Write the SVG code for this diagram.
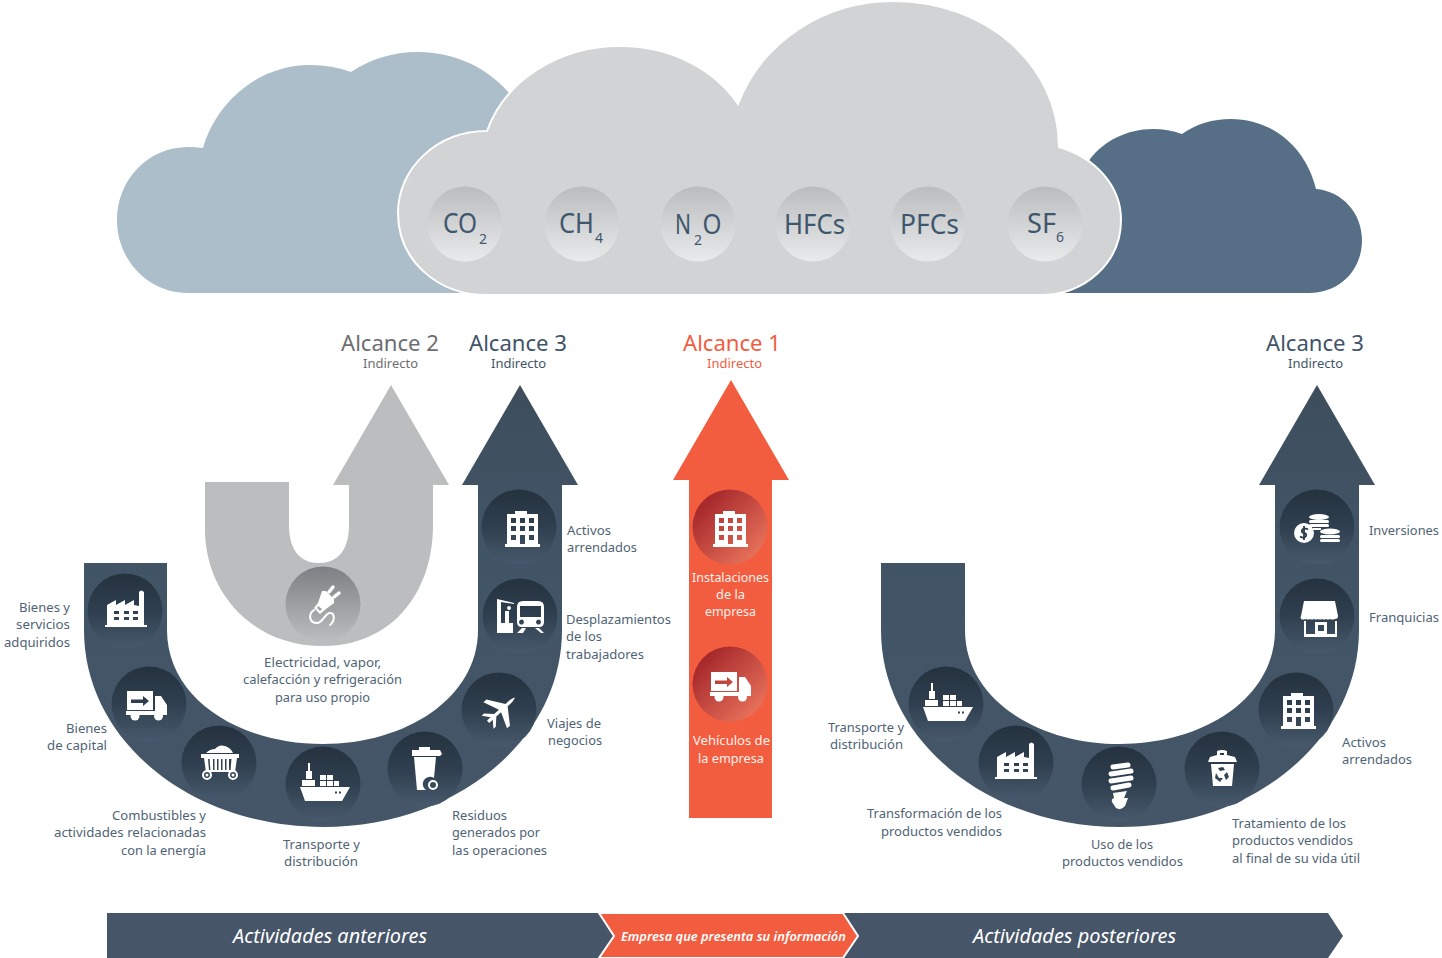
<svg xmlns="http://www.w3.org/2000/svg" xmlns:xlink="http://www.w3.org/1999/xlink" width="1442" height="958" viewBox="0 0 1442 958">
<style>
text{font-family:"Noto Sans","Open Sans","Liberation Sans",sans-serif}
.l{font-size:13.4px;fill:#4f6375}
.w{font-size:13.4px;fill:#fff0ea}
.t{font-size:22px}
.s{font-size:12.6px}
.g{font-size:27.5px;fill:#3f576d}
.g2{font-size:14px;fill:#3f576d}
.b{font-size:19.5px;font-style:italic;fill:#fff}
.ic{fill:#fff;fill-rule:evenodd}
.sk{fill:none;stroke:#fff;stroke-linecap:round}
</style>
<defs>
<linearGradient id="gU" x1="0" y1="0" x2="0" y2="1"><stop offset="0" stop-color="#3d4d5c"/><stop offset=".3" stop-color="#415465"/><stop offset="1" stop-color="#445668"/></linearGradient>
<linearGradient id="gC" x1="0" y1="0" x2="0" y2="1"><stop offset="0" stop-color="#25323f"/><stop offset=".5" stop-color="#2f3f4f"/><stop offset="1" stop-color="#47596c"/></linearGradient>
<linearGradient id="gG" x1="0" y1="0" x2="0" y2="1"><stop offset="0" stop-color="#bbbcbe"/><stop offset="1" stop-color="#e9eaeb"/></linearGradient>
<linearGradient id="gP" x1="0" y1="0" x2="0" y2="1"><stop offset="0" stop-color="#7e7f82"/><stop offset="1" stop-color="#bcbdbf"/></linearGradient>
<linearGradient id="gR" x1="0" y1="0" x2="1" y2="1"><stop offset="0.05" stop-color="#9c1d24"/><stop offset="1" stop-color="#f47f63"/></linearGradient>
<path id="building" class="ic" d="M-13-13H-5V-16H7V-13H18V17H20V20H-15V17H-13ZM-9-9V-4H-4V-9ZM0-9V-4H5V-9ZM9-9V-4H14V-9ZM-9-1V4H-4V-1ZM0-1V4H5V-1ZM9-1V4H14V-1ZM-9 8V13H-4V8ZM0 8V17H5V8ZM9 8V13H14V8Z"/>
<path id="factory" class="ic" d="M-18 14V-6L-9-11V-6L0-11V-6L9-11V-6L14-5V-19Q16-22 19-19V14H22V16H-20V14ZM-11 0V3H-6V0ZM-1 0V3H4V0ZM8 0V3H13V0ZM-11 6V9H-6V6ZM-1 6V9H4V6ZM8 6V9H13V6Z"/>
<g id="ship"><path class="ic" d="M-23 3H27L19 17H-18ZM12 7.500V9.500H14V7.500ZM16 7.500V9.500H18V7.500Z"/><path class="ic" d="M-21-4H-8V2H-21ZM-17-13H-11V-5H-17ZM-15-21H-13V-13H-15ZM-3-9H3V-4H-3ZM4-9H10V-4H4ZM-3-3H3V2H-3ZM4-3H10V2H4ZM11-3H16V2H11Z"/></g>
<g id="truck"><path class="ic" d="M-22-13H4V6H-22ZM-18-4.500V-1H-6V2L0-3L-6-8V-4.500ZM6-8H12L18 1V8H6Z"/><path class="ic" d="M-23 7H18V11H-23Z"/><circle cx="-14" cy="12" r="4.500" fill="#fff"/><circle cx="9.500" cy="12" r="4.500" fill="#fff"/></g>
</defs>

<g id="clouds">
<path id="cloud-alcance2" fill="#abbeca" d="M188 293C148 293 117 260 117 220C117 180 148 147 188 147Q196 147 203 148C217 100 260 65 310 65Q332 65 351 72C370 59 393 52 418 52C455 52 488 68 510 94L520 293Z"/>
<path id="cloud-alcance3" fill="#566f87" d="M1309 293C1340 293 1362 270 1362 240C1362 213 1342 191 1316 189C1306 147 1272 119 1231 119C1213 119 1196 124 1182 134Q1168 129 1153 129C1127 129 1104 141 1090 159L1050 293Z"/>
<path id="cloud-main" fill="#d1d3d5" stroke="#fff" stroke-width="2" d="M487 295C437 295 398 260 398 213C398 168 437 131 487 131C505 81 558 46 620 46C672 46 715 70 738 104C762 41 825 1 893 1C987 1 1059 66 1059 147C1096 158 1121 186 1121 220C1121 262 1086 295 1040 295Z"/>
</g>

<g id="gas-co2"><circle cx="465" cy="224" r="37.500" fill="url(#gG)"/><text class="g"><tspan x="443" y="233" textLength="34" lengthAdjust="spacingAndGlyphs">CO</tspan><tspan class="g2" x="479" y="244">2</tspan></text></g>
<g id="gas-ch4"><circle cx="582" cy="224" r="37.500" fill="url(#gG)"/><text class="g"><tspan x="559" y="233" textLength="35" lengthAdjust="spacingAndGlyphs">CH</tspan><tspan class="g2" x="595" y="243">4</tspan></text></g>
<g id="gas-n2o"><circle cx="698" cy="224" r="37.500" fill="url(#gG)"/><text class="g"><tspan x="675" y="234" textLength="16" lengthAdjust="spacingAndGlyphs">N</tspan><tspan class="g2" x="694" y="245">2</tspan><tspan x="702.500" y="234" textLength="19" lengthAdjust="spacingAndGlyphs">O</tspan></text></g>
<g id="gas-hfcs"><circle cx="813" cy="224" r="37.500" fill="url(#gG)"/><text class="g" x="784" y="234" textLength="61" lengthAdjust="spacingAndGlyphs">HFCs</text></g>
<g id="gas-pfcs"><circle cx="928" cy="224" r="37.500" fill="url(#gG)"/><text class="g" x="900" y="234" textLength="59" lengthAdjust="spacingAndGlyphs">PFCs</text></g>
<g id="gas-sf6"><circle cx="1045" cy="224" r="37.500" fill="url(#gG)"/><text class="g"><tspan x="1027" y="233" textLength="29" lengthAdjust="spacingAndGlyphs">SF</tspan><tspan class="g2" x="1056" y="242">6</tspan></text></g>

<g id="headers">
<text class="t" x="341" y="351" fill="#6d6e71" textLength="98" lengthAdjust="spacingAndGlyphs">Alcance 2</text>
<text class="s" x="363" y="368" fill="#6d6e71" textLength="55" lengthAdjust="spacingAndGlyphs">Indirecto</text>
<text class="t" x="469" y="351" fill="#3f5468" textLength="98" lengthAdjust="spacingAndGlyphs">Alcance 3</text>
<text class="s" x="491" y="368" fill="#3f5468" textLength="55" lengthAdjust="spacingAndGlyphs">Indirecto</text>
<text class="t" x="683" y="351" fill="#f15d3f" textLength="98" lengthAdjust="spacingAndGlyphs">Alcance 1</text>
<text class="s" x="707" y="368" fill="#f15d3f" textLength="55" lengthAdjust="spacingAndGlyphs">Indirecto</text>
<text class="t" x="1266" y="351" fill="#3f5468" textLength="98" lengthAdjust="spacingAndGlyphs">Alcance 3</text>
<text class="s" x="1288" y="368" fill="#3f5468" textLength="55" lengthAdjust="spacingAndGlyphs">Indirecto</text>
</g>

<g id="connectors">
<path id="flow-alcance2" fill="#bcbdbf" d="M205 482H289V525C289 550 300 563 319 563C338 563 349 550 349 525V485H333L391 385L449 485H433V525C433 595 390 646 323 646C250 646 205 590 205 530Z"/>
<path id="flow-upstream" fill="url(#gU)" d="M84 563H167V630C167 698 238 744 323 744C406 744 478 698 478 630V485H462L520 385L578 485H562V630C562 740 456 827 323 827C190 827 84 740 84 630Z"/>
<path id="flow-alcance1" fill="#f25d3f" d="M689 818V480H673L731 380L789 480H772V818Z"/>
<path id="flow-downstream" fill="url(#gU)" d="M881 563H965V630C965 698 1036 744 1120 744C1204 744 1275 698 1275 630V485H1259L1317 385L1375 485H1359V630C1359 740 1253 827 1120 827C987 827 881 740 881 630Z"/>
</g>

<g id="node-electricidad"><circle cx="323" cy="604" r="37.500" fill="url(#gP)"/>
<g transform="translate(323 604)"><path class="ic" d="M-1-13L3-13L11-5L11-1L3 5L-3 10L-9 4L-5-1ZM-5 2L-6 4L-3 7L-1 5Z"/><path class="sk" stroke-width="3.500" d="M6-12L10-17M11-7L16-11"/><path class="sk" stroke-width="2" d="M-9 6C-15 10-14 19-6 19C0 19 2 9 7 9C12 9 12 17 7 21"/></g>
<text class="l" x="264" y="667" textLength="117" lengthAdjust="spacingAndGlyphs">Electricidad, vapor,</text>
<text class="l" x="243" y="684" textLength="159" lengthAdjust="spacingAndGlyphs">calefacción y refrigeración</text>
<text class="l" x="275" y="702" textLength="95" lengthAdjust="spacingAndGlyphs">para uso propio</text></g>

<g id="node-bienes-servicios"><circle cx="125" cy="611" r="37.500" fill="url(#gC)"/><use xlink:href="#factory" href="#factory" x="125" y="611"/>
<text class="l" x="19" y="612" textLength="51" lengthAdjust="spacingAndGlyphs">Bienes y</text>
<text class="l" x="16" y="629" textLength="54" lengthAdjust="spacingAndGlyphs">servicios</text>
<text class="l" x="4" y="647" textLength="66" lengthAdjust="spacingAndGlyphs">adquiridos</text></g>

<g id="node-bienes-capital"><circle cx="149" cy="704" r="37.500" fill="url(#gC)"/><use xlink:href="#truck" href="#truck" x="149" y="704"/>
<text class="l" x="66" y="733" textLength="41" lengthAdjust="spacingAndGlyphs">Bienes</text>
<text class="l" x="47" y="750" textLength="60" lengthAdjust="spacingAndGlyphs">de capital</text></g>

<g id="node-combustibles"><circle cx="219" cy="763" r="37.500" fill="url(#gC)"/>
<g transform="translate(219 763)"><path class="ic" d="M-13-10Q-9-14-4-14Q0-19 6-17Q12-15 14-10ZM-18-9H20V-5H18L16 9H-13L-15-5H-18ZM-11-4L-10 7H-8.500L-9.500-4ZM-6-4V7H-4.500V-4ZM-2-4V7H-.5V-4ZM2-4V7H3.500V-4ZM6-4V7H7.500V-4ZM10-4V7H11.500L12.500-4Z"/><circle cx="-12" cy="12" r="4" fill="none" stroke="#fff" stroke-width="2"/><circle cx="14" cy="12" r="4" fill="none" stroke="#fff" stroke-width="2"/><circle cx="-12" cy="12" r="1.500" fill="#fff"/><circle cx="14" cy="12" r="1.500" fill="#fff"/></g>
<text class="l" x="112" y="820" textLength="94" lengthAdjust="spacingAndGlyphs">Combustibles y</text>
<text class="l" x="54" y="837" textLength="152" lengthAdjust="spacingAndGlyphs">actividades relacionadas</text>
<text class="l" x="121" y="855" textLength="85" lengthAdjust="spacingAndGlyphs">con la energía</text></g>

<g id="node-transporte-up"><circle cx="323" cy="784" r="37.500" fill="url(#gC)"/><use xlink:href="#ship" href="#ship" x="323" y="784"/>
<text class="l" x="283" y="849" textLength="77" lengthAdjust="spacingAndGlyphs">Transporte y</text>
<text class="l" x="284" y="866" textLength="74" lengthAdjust="spacingAndGlyphs">distribución</text></g>

<g id="node-residuos"><circle cx="425" cy="769" r="37.500" fill="url(#gC)"/>
<g transform="translate(425 769)"><path class="ic" d="M-6-22H5V-19H15L17-15L15-13H-13V-19H-6ZM-11-12H11L9 9A6.500 6.500 0 0 0 1 21H-8Z"/><circle cx="8" cy="16" r="4" fill="none" stroke="#fff" stroke-width="2"/></g>
<text class="l" x="452" y="820" textLength="55" lengthAdjust="spacingAndGlyphs">Residuos</text>
<text class="l" x="452" y="837" textLength="88" lengthAdjust="spacingAndGlyphs">generados por</text>
<text class="l" x="452" y="855" textLength="95" lengthAdjust="spacingAndGlyphs">las operaciones</text></g>

<g id="node-viajes"><circle cx="499" cy="710" r="37.500" fill="url(#gC)"/>
<path class="ic" transform="translate(500 711) rotate(-42) scale(.8)" d="M-20-2H-14L-21-11H-17L-8-2H0L-8-22H-3L11-2H18Q24-1 25 0Q24 1 18 2H11L-3 22H-8L0 2H-8L-17 11H-21L-14 2H-20Z"/>
<text class="l" x="547" y="728" textLength="54" lengthAdjust="spacingAndGlyphs">Viajes de</text>
<text class="l" x="548" y="745" textLength="54" lengthAdjust="spacingAndGlyphs">negocios</text></g>

<g id="node-desplazamientos"><circle cx="520" cy="616" r="37.500" fill="url(#gC)"/>
<g transform="translate(520 616)"><path class="ic" d="M-3-9Q-3-15 3-15H18Q24-15 24-9V6Q24 11 19 11H2Q-3 11-3 6ZM0-10V1H21V-10ZM4 6A2.500 2.500 0 1 0 4 6.100ZM21 6A2.500 2.500 0 1 0 21 6.100Z"/><path class="ic" d="M-3 17L2 12H6L3 17ZM21 17L15 12H19L24 17ZM-23-17L-6-13V-12L-19-14V7H-7V17H-23ZM-13-8A2 2 0 1 1-13-7.900ZM-15-5H-11V7H-15Z"/></g>
<text class="l" x="566" y="624" textLength="105" lengthAdjust="spacingAndGlyphs">Desplazamientos</text>
<text class="l" x="566" y="641" textLength="36" lengthAdjust="spacingAndGlyphs">de los</text>
<text class="l" x="566" y="659" textLength="78" lengthAdjust="spacingAndGlyphs">trabajadores</text></g>

<g id="node-activos-up"><circle cx="519" cy="527" r="37.500" fill="url(#gC)"/><use xlink:href="#building" href="#building" x="520" y="527"/>
<text class="l" x="567" y="535" textLength="44" lengthAdjust="spacingAndGlyphs">Activos</text>
<text class="l" x="567" y="552" textLength="70" lengthAdjust="spacingAndGlyphs">arrendados</text></g>

<g id="node-instalaciones"><circle cx="730" cy="527" r="37.500" fill="url(#gR)"/><use xlink:href="#building" href="#building" x="728" y="527"/>
<text class="w" x="692" y="582" textLength="77" lengthAdjust="spacingAndGlyphs">Instalaciones</text>
<text class="w" x="716" y="599" textLength="29" lengthAdjust="spacingAndGlyphs">de la</text>
<text class="w" x="705" y="616" textLength="51" lengthAdjust="spacingAndGlyphs">empresa</text></g>

<g id="node-vehiculos"><circle cx="730" cy="684" r="37.500" fill="url(#gR)"/><use xlink:href="#truck" href="#truck" x="733" y="685"/>
<text class="w" x="693" y="745" textLength="77" lengthAdjust="spacingAndGlyphs">Vehículos de</text>
<text class="w" x="698" y="763" textLength="66" lengthAdjust="spacingAndGlyphs">la empresa</text></g>

<g id="node-transporte-down"><circle cx="946" cy="704" r="37.500" fill="url(#gC)"/><use xlink:href="#ship" href="#ship" x="946" y="704"/>
<text class="l" x="828" y="732" textLength="76" lengthAdjust="spacingAndGlyphs">Transporte y</text>
<text class="l" x="830" y="749" textLength="73" lengthAdjust="spacingAndGlyphs">distribución</text></g>

<g id="node-transformacion"><circle cx="1016" cy="763" r="37.500" fill="url(#gC)"/><use xlink:href="#factory" href="#factory" x="1015" y="763"/>
<text class="l" x="867" y="818" textLength="135" lengthAdjust="spacingAndGlyphs">Transformación de los</text>
<text class="l" x="881" y="836" textLength="121" lengthAdjust="spacingAndGlyphs">productos vendidos</text></g>

<g id="node-uso"><circle cx="1119" cy="784" r="37.500" fill="url(#gC)"/>
<g transform="translate(1119 784)"><path class="sk" stroke-width="5" d="M-6-17L9-19M-8-10L12-13M-8-3L12-6M-6 4L10 1"/><path class="ic" d="M-6 9L8 7L5 14H9L6 22Q2 27-3 24L-7 18Q-8 15-5 14Z"/></g>
<text class="l" x="1091" y="849" textLength="62" lengthAdjust="spacingAndGlyphs">Uso de los</text>
<text class="l" x="1062" y="866" textLength="121" lengthAdjust="spacingAndGlyphs">productos vendidos</text></g>

<g id="node-tratamiento"><circle cx="1222" cy="769" r="37.500" fill="url(#gC)"/>
<g transform="translate(1222 769)"><path class="ic" d="M-5-18Q0-20 5-18V-14L13-12L15-7H-14L-12-12L-5-14ZM-2-16V-14H2V-16ZM-11-5H12L10 17H-9ZM-4-1L1-2L3 1L-2 2ZM5 3L7 8L4 11L2 6ZM-6 4L-3 9H1L-2 13L-7 9Z"/></g>
<text class="l" x="1232" y="828" textLength="114" lengthAdjust="spacingAndGlyphs">Tratamiento de los</text>
<text class="l" x="1232" y="845" textLength="121" lengthAdjust="spacingAndGlyphs">productos vendidos</text>
<text class="l" x="1232" y="863" textLength="128" lengthAdjust="spacingAndGlyphs">al final de su vida útil</text></g>

<g id="node-activos-down"><circle cx="1296" cy="710" r="37.500" fill="url(#gC)"/><use xlink:href="#building" href="#building" x="1296" y="709"/>
<text class="l" x="1342" y="747" textLength="44" lengthAdjust="spacingAndGlyphs">Activos</text>
<text class="l" x="1342" y="764" textLength="70" lengthAdjust="spacingAndGlyphs">arrendados</text></g>

<g id="node-franquicias"><circle cx="1317" cy="616" r="37.500" fill="url(#gC)"/>
<g transform="translate(1317 616)"><path class="ic" d="M-13-15H18L21 0Q21 3 18 3Q15 4 13 3Q11 4 9 3Q7 4 5 3Q3 4 1 3Q-1 4-3 3Q-5 4-7 3Q-9 4-11 3Q-14 4-16 3Q-17 1-16 0Z"/><path class="ic" d="M-13 5H-11V18H-2V6H10V18H18V5H20V21H-13ZM1 9V15H7V9Z"/></g>
<text class="l" x="1369" y="622" textLength="70" lengthAdjust="spacingAndGlyphs">Franquicias</text></g>

<g id="node-inversiones"><circle cx="1317" cy="527" r="37.500" fill="url(#gC)"/>
<g transform="translate(1317 527)"><ellipse cx="2" cy="-10" rx="10" ry="3" fill="#fff"/><rect x="-8" y="-7" width="20" height="3" rx="1.500" fill="#fff"/><rect x="-8" y="-3" width="20" height="3" rx="1.500" fill="#fff"/><rect x="-4" y="1" width="8" height="2" fill="#fff"/><ellipse cx="13" cy="4.500" rx="10" ry="3" fill="#fff"/><rect x="3" y="8" width="20" height="3" rx="1.500" fill="#fff"/><rect x="3" y="12" width="20" height="3" rx="1.500" fill="#fff"/><circle cx="-13" cy="6" r="10" fill="#fff"/><path d="M-9 2.500Q-13 0-15 3Q-16 5.500-13 6Q-10 6.500-11 9Q-13 12-17 9.500M-13-1V13" fill="none" stroke="#2a3947" stroke-width="1.800"/></g>
<text class="l" x="1369" y="535" textLength="70" lengthAdjust="spacingAndGlyphs">Inversiones</text></g>

<g id="band">
<path fill="#465568" d="M107 913H600L615 936L600 958H107Z"/>
<path fill="#465568" d="M843 913H1328L1343 936L1328 958H843L858 936Z"/>
<path fill="#f25d3f" stroke="#fff" stroke-width="2" d="M599 913H843L858 936L843 958H599L614 936Z"/>
<text class="b" x="233" y="943" textLength="194" lengthAdjust="spacingAndGlyphs">Actividades anteriores</text>
<text x="621" y="941" font-size="12.500" font-weight="600" font-style="italic" fill="#fff" textLength="225" lengthAdjust="spacingAndGlyphs">Empresa que presenta su información</text>
<text class="b" x="973" y="943" textLength="203" lengthAdjust="spacingAndGlyphs">Actividades posteriores</text>
</g>
</svg>
